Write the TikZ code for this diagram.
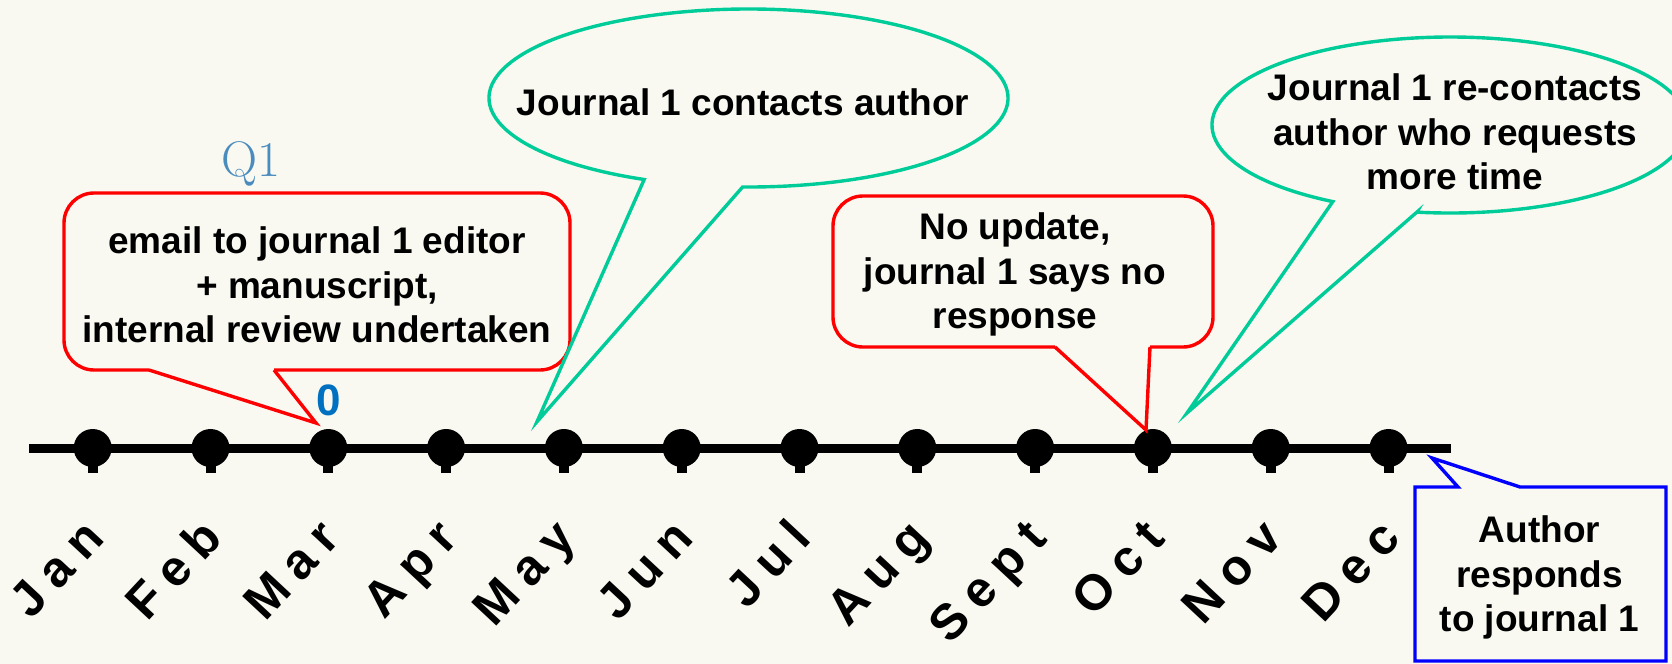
\documentclass[tikz,border=0pt]{standalone}
\usepackage{fontspec}
\newfontfamily\arial{Liberation Sans}
\newfontfamily\monthfont[LetterSpace=24]{Liberation Sans}
\definecolor{bgcream}{RGB}{249,249,241}
\definecolor{calloutgreen}{RGB}{0,204,153}
\definecolor{qblue}{RGB}{75,140,190}
\definecolor{zeroblue}{RGB}{0,112,192}
\begin{document}
\begin{tikzpicture}[x=0.5pt,y=-0.5pt,
		txt/.style={font=\arial\bfseries\fontsize{18.5}{22.2}\selectfont,align=center,inner sep=0pt},
		month/.style={font=\monthfont\bfseries\fontsize{25}{29}\selectfont,rotate=47,anchor=base east,inner sep=0pt},
		redline/.style={draw=red,line width=1.7pt},
		greenline/.style={draw=calloutgreen,line width=1.7pt},
		blueline/.style={draw=blue,line width=1.7pt}]
	\path[use as bounding box,fill=bgcream] (0,0) rectangle (1672,664);
	\draw[line width=4.5pt] (29,448) -- (1451,448);
	\foreach \m [count=\i from 0] in {Jan,Feb,Mar,Apr,May,Jun,Jul,Aug,Sept,Oct,Nov,Dec} {
		\pgfmathsetmacro{\x}{92.7+117.8*\i}
		\fill (\x,448) circle[radius=19];
		\fill (\x-5,448) rectangle (\x+5,473);
		\node[month] (m\i) at (\x+14,540) {\m};
	}
	\draw[redline,rounded corners=15pt] (274,370) -- (570,370) -- (570,193) -- (64,193) -- (64,370) -- (149,370);
	\draw[redline] (149,370) -- (316,423) -- (274,370);
	\draw[redline,rounded corners=15pt] (1150,347) -- (1213,347) -- (1213,196) -- (833,196) -- (833,347) -- (1055,347);
	\draw[redline] (1055,347) -- (1146,430) -- (1150,347);
	\draw[greenline] (742.6,187) -- (537,421.7) -- (644.2,179.5) arc[start angle=113.7,end angle=451.3,x radius=259.5,y radius=89] -- cycle;
	\draw[greenline] (1416.9,212.1) -- (1187,413) -- (1332.8,201.6) arc[start angle=119.5,end angle=458,x radius=238,y radius=88] -- cycle;
	\draw[blueline] (1415,487) -- (1458,487) -- (1432,458) -- (1520,487) -- (1666,487) -- (1666,661) -- (1415,661) -- cycle;
	\node[font=\fontsize{25}{29}\selectfont,text=qblue,anchor=base,inner sep=0pt] (q1) at (251,176) {Q1};
	\node[txt] (note1) at (317,284.8) {email to journal 1 editor\\+ manuscript,\\internal review undertaken};
	\node[font=\arial\bfseries\fontsize{22}{26}\selectfont,text=zeroblue,anchor=base,inner sep=0pt] (zero) at (329,415) {0};
	\node[txt,anchor=base] (contact1) at (743,115) {Journal 1 contacts author};
	\node[txt] (note2) at (1015,274.7) {No update,\\journal 1 says no\\response};
	\node[txt] (contact2) at (1455,131.8) {Journal 1 re-contacts\\author who requests\\more time};
	\node[txt] (reply) at (1539.5,577.6) {Author\\responds\\to journal 1};
\end{tikzpicture}
\end{document}
